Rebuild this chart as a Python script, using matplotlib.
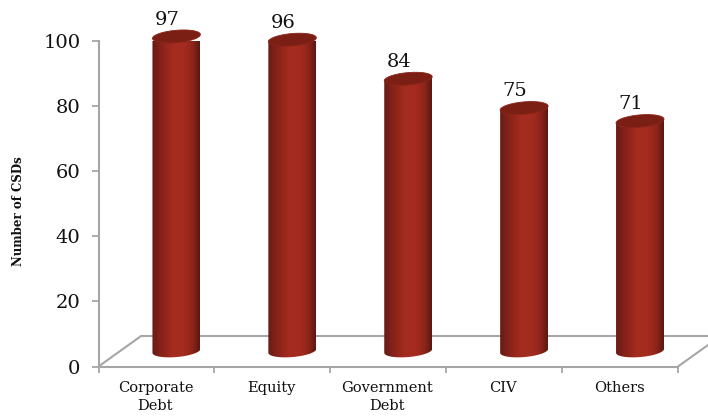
# plot.py
# csd counts per instrument type, drawn as fake 3d cylinders on a floor

import numpy as np
import matplotlib
matplotlib.use("Agg")
import matplotlib.pyplot as plt
from matplotlib.colors import LinearSegmentedColormap
from matplotlib.patches import PathPatch, Polygon
from matplotlib.path import Path

categories = ["Corporate\nDebt", "Equity", "Government\nDebt", "CIV", "Others"]
values = [97, 96, 84, 75, 71]
y_ticks = [0, 20, 40, 60, 80, 100]

GREY = "#a6a6a6"
FONT = "DejaVu Serif"
# depth of the fake 3d floor, in data units
DEPTH_X = 42 / 116
DEPTH_Y = 30 / 3.25
BAR_OFFSET = 20 / 116
BAR_HALF = 24 / 116
LABEL_SHIFT = 9 / 116
BASE_Y = 4.8
CAP_H = 1.9
TILT = 0.6

cyl_cmap = LinearSegmentedColormap.from_list(
    "cyl", ["#661b13", "#80211a", "#93261b", "#a32b1f", "#a62c20", "#a02a1e", "#8a2419", "#5c1811"])


def ellipse_points(cx, cy, t):
    # slightly tilted ellipse, right side higher than the left
    return cx + BAR_HALF * np.cos(t), cy + CAP_H * np.sin(t) + TILT * np.cos(t)


def draw_cylinder(ax, x, value):
    cx = x + 0.5 + BAR_OFFSET
    left, right = cx - BAR_HALF, cx + BAR_HALF
    top = value + BASE_Y - 0.4

    # body: rounded bottom, then up the right side and back along the top
    low_x, low_y = ellipse_points(cx, BASE_Y, np.linspace(np.pi, 2 * np.pi, 40))
    verts = list(zip(low_x, low_y)) + [(right, top + TILT), (left, top - TILT), (low_x[0], low_y[0])]
    codes = [Path.MOVETO] + [Path.LINETO] * (len(verts) - 2) + [Path.CLOSEPOLY]
    clip = PathPatch(Path(verts, codes), transform=ax.transData, fc="none", ec="none")
    ax.add_patch(clip)

    grad = np.linspace(0, 1, 128).reshape(1, -1)
    im = ax.imshow(grad, cmap=cyl_cmap, extent=[left, right, -10, 110], aspect="auto",
                   zorder=3, interpolation="bilinear")
    im.set_clip_path(clip)

    # top cap
    cap_x, cap_y = ellipse_points(cx, top, np.linspace(0, 2 * np.pi, 60))
    ax.add_patch(Polygon(np.column_stack([cap_x, cap_y]), closed=True, fc="#7b1f15",
                         ec="#8a2519", lw=0.6, zorder=4, clip_on=False))

    ax.text(cx - LABEL_SHIFT, value + 8.0, str(value), ha="center", va="baseline", fontsize=14,
            family=FONT, color="#111111", zorder=5, clip_on=False)


def main():
    fig = plt.figure(figsize=(7.08, 4.16), dpi=100)
    ax = fig.add_axes([98.5 / 708, (416 - 366.5) / 416, (678 - 98.5) / 708, 325.5 / 416])

    # floor lines behind the bars
    n = len(categories)
    floor = dict(color=GREY, lw=1.5, clip_on=False, zorder=1, solid_capstyle="butt")
    ax.plot([0, DEPTH_X], [0, DEPTH_Y], **floor)
    ax.plot([DEPTH_X, n + DEPTH_X], [DEPTH_Y, DEPTH_Y], **floor)
    ax.plot([n, n + DEPTH_X], [0, DEPTH_Y], **floor)

    for i, value in enumerate(values):
        draw_cylinder(ax, i, value)
    ax.set_xlim(0, 5)
    ax.set_ylim(0, 100)

    for side in ["top", "right"]:
        ax.spines[side].set_visible(False)
    for side in ["left", "bottom"]:
        ax.spines[side].set_color(GREY)
        ax.spines[side].set_linewidth(1.5)

    ax.set_yticks(y_ticks)
    ax.set_yticklabels([str(v) for v in y_ticks], family=FONT, fontsize=14, color="#111111")
    ax.tick_params(axis="y", length=5, width=1.3, color=GREY, pad=8)

    ax.set_xticks(range(n + 1))
    ax.set_xticklabels([""] * (n + 1))
    ax.tick_params(axis="x", length=4, width=1.3, color=GREY)
    for i, label in enumerate(categories):
        ax.annotate(label, (i + 0.5, 0), xytext=(-0.7, -10.5), textcoords="offset points",
                    ha="center", va="top", fontsize=10.5, family=FONT, color="#111111",
                    linespacing=1.4, annotation_clip=False)

    fig.text(19 / 708, 1 - 211 / 416, "Number of CSDs", rotation=90, ha="center", va="center",
             fontsize=8.5, fontweight="bold", family=FONT, color="#111111")

    fig.savefig("out.png", dpi=100)


if __name__ == "__main__":
    main()
